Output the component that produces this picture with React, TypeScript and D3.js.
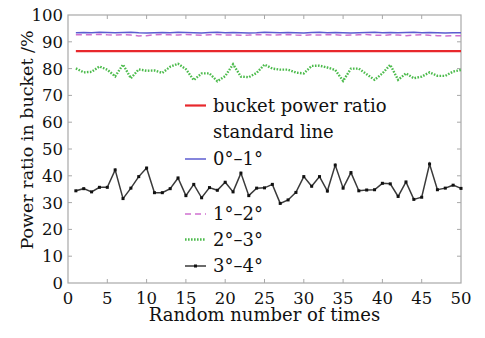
import * as d3 from "d3";
import React from "react";

// random trial index 1..50
const trials = d3.range(1, 51);

const standardLine = 86.5;

const deg01 = [
  93.4, 93.5, 93.4, 93.6, 93.5, 93.4, 93.5, 93.6, 93.4, 93.3,
  93.4, 93.5, 93.4, 93.6, 93.5, 93.4, 93.3, 93.5, 93.6, 93.4,
  93.5, 93.4, 93.3, 93.4, 93.6, 93.5, 93.4, 93.5, 93.4, 93.3,
  93.5, 93.6, 93.4, 93.5, 93.4, 93.3, 93.4, 93.5, 93.6, 93.4,
  93.5, 93.4, 93.5, 93.6, 93.4, 93.5, 93.4, 93.3, 93.4, 93.4,
];

const deg12 = [
  92.6, 92.7, 92.6, 92.8, 92.6, 92.5, 92.7, 92.5, 92.2, 92.3,
  92.6, 92.7, 92.6, 92.5, 92.7, 92.6, 92.4, 92.6, 92.7, 92.5,
  92.6, 92.4, 92.5, 92.7, 92.6, 92.5, 92.6, 92.7, 92.5, 92.4,
  92.6, 92.5, 92.7, 92.6, 92.4, 92.5, 92.6, 92.7, 92.5, 92.4,
  92.6, 92.5, 92.3, 92.5, 92.6, 92.4, 92.3, 92.2, 92.3, 92.3,
];

const deg23 = [
  80.1, 78.6, 78.8, 80.8, 79.6, 77.1, 81.5, 76.4, 79.7, 79.2,
  79.3, 78.4, 80.7, 81.8, 79.8, 75.7, 78.2, 78.2, 75.3, 77.2,
  81.6, 77.0, 76.8, 78.4, 81.5, 80.0, 79.6, 79.6, 78.5, 78.2,
  81.0, 81.1, 80.4, 79.5, 75.4, 80.0, 80.0, 77.9, 75.8, 78.2,
  81.4, 75.8, 78.2, 76.4, 77.0, 78.6, 77.3, 77.3, 78.9, 79.5,
];

const deg34 = [
  34.4, 35.2, 34.0, 35.7, 35.7, 42.2, 31.5, 35.4, 39.7, 42.9,
  33.7, 33.7, 35.2, 39.2, 32.6, 36.8, 31.8, 35.6, 34.6, 37.6,
  34.0, 41.0, 32.6, 35.4, 35.5, 36.8, 29.7, 31.0, 33.8, 39.7,
  36.1, 39.7, 34.3, 44.0, 35.4, 41.2, 34.4, 34.7, 34.8, 37.2,
  37.0, 32.3, 37.7, 31.2, 32.0, 44.4, 34.8, 35.4, 36.5, 35.3,
];

const xTicks = d3.range(0, 51, 5);
const yTicks = d3.range(0, 101, 10);

const legendLabels = [
  ["bucket power ratio", "standard line"],
  ["0°–1°"],
  ["1°–2°"],
  ["2°–3°"],
  ["3°–4°"],
];

const width = 485;
const height = 338;
const m = { left: 68, right: 24, top: 15, bottom: 55 };
const font = "DejaVu Serif";
const frame = "#a8a8a8";

const x = d3.scaleLinear().domain([0, 50]).range([m.left, width - m.right]);
const y = d3.scaleLinear().domain([0, 100]).range([height - m.bottom, m.top]);

const line = d3
  .line<[number, number]>()
  .x((d) => x(d[0]))
  .y((d) => y(d[1]));

const series = [
  { data: deg01, color: "#5c5cd0", width: 1.5, dash: undefined },
  { data: deg12, color: "#d070d0", width: 1.5, dash: "6,4" },
  { data: deg23, color: "#4cbb4c", width: 2.4, dash: "1.6,1.4" },
  { data: deg34, color: "#3a3a3a", width: 1.5, dash: undefined },
];

// legend rows (red standard line first)
const legendRows = [
  { y: 105.5, color: "#e8282c", width: 2.2, dash: undefined, dots: false },
  { y: 159, color: "#5c5cd0", width: 1.5, dash: undefined, dots: false },
  { y: 214, color: "#d070d0", width: 1.5, dash: "6,4", dots: false },
  { y: 239.5, color: "#4cbb4c", width: 2.4, dash: "1.6,1.4", dots: false },
  { y: 266, color: "#3a3a3a", width: 1.5, dash: undefined, dots: true },
];

const App = () => {
  const tl = 4;
  const lx1 = 185;
  const lx2 = 206;
  const tx = 213;

  return (
    <svg
      width={width}
      height={height}
      style={{ position: "absolute", left: 0, top: 0, background: "#fff" }}
    >
      <rect
        x={x(0)}
        y={y(100)}
        width={x(50) - x(0)}
        height={y(0) - y(100)}
        fill="none"
        stroke={frame}
        strokeWidth={1.2}
      />
      {xTicks.slice(1, -1).map((t) => (
        <g key={"xt" + t} stroke={frame}>
          <line x1={x(t)} x2={x(t)} y1={y(0)} y2={y(0) - tl} />
          <line x1={x(t)} x2={x(t)} y1={y(100)} y2={y(100) + tl} />
        </g>
      ))}
      {yTicks.slice(1, -1).map((t) => (
        <g key={"yt" + t} stroke={frame}>
          <line x1={x(0)} x2={x(0) + tl} y1={y(t)} y2={y(t)} />
          <line x1={x(50)} x2={x(50) - tl} y1={y(t)} y2={y(t)} />
        </g>
      ))}

      {xTicks.map((t) => (
        <text key={"xl" + t} x={x(t)} y={304} textAnchor="middle" fontFamily={font} fontSize={16.5} fill="#111">
          {t}
        </text>
      ))}
      {yTicks.map((t) => (
        <text key={"yl" + t} x={63} y={y(t)} dy="0.36em" textAnchor="end" fontFamily={font} fontSize={16.5} fill="#111">
          {t}
        </text>
      ))}

      <text x={x(25)} y={321} textAnchor="middle" fontFamily={font} fontSize={18} fill="#111">
        Random number of times
      </text>
      <text
        transform="translate(33, 140) rotate(-90)"
        textAnchor="middle"
        fontFamily={font}
        fontSize={17.5}
        fill="#111"
      >
        Power ratio in bucket /%
      </text>

      <path
        d={line([[1, standardLine], [50, standardLine]]) || ""}
        fill="none"
        stroke="#e8282c"
        strokeWidth={2.2}
      />
      {series.map((s, k) => (
        <path
          key={"s" + k}
          d={line(trials.map((t, i) => [t, s.data[i]] as [number, number])) || ""}
          fill="none"
          stroke={s.color}
          strokeWidth={s.width}
          strokeDasharray={s.dash}
        />
      ))}
      {trials.map((t, i) => (
        <rect key={"mk" + t} x={x(t) - 1.5} y={y(deg34[i]) - 1.5} width={3} height={3} fill="#111" />
      ))}

      {legendRows.map((r, i) => (
        <g key={"lg" + i}>
          <line
            x1={lx1}
            x2={lx2}
            y1={r.y}
            y2={r.y}
            stroke={r.color}
            strokeWidth={r.width}
            strokeDasharray={r.dash}
          />
          {r.dots && <rect x={(lx1 + lx2) / 2 - 1.5} y={r.y - 1.5} width={3} height={3} fill="#111" />}
          {legendLabels[i].map((lab, j) => (
            <text
              key={lab}
              x={tx}
              y={r.y + j * 26}
              dy="0.36em"
              fontFamily={font}
              fontSize={18}
              fill="#111"
            >
              {lab}
            </text>
          ))}
        </g>
      ))}
    </svg>
  );
};

export default App;
